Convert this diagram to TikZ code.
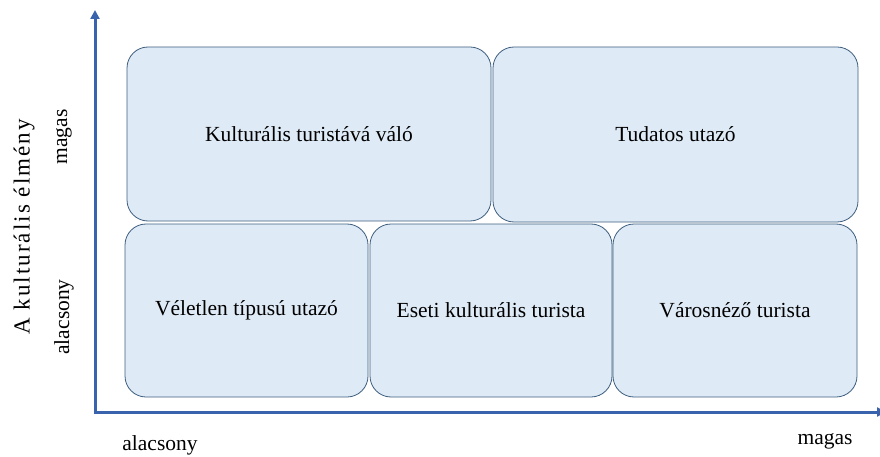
\documentclass[tikz,border=0pt]{standalone}
\usepackage{fontspec}
\setmainfont{Liberation Serif}
\usetikzlibrary{arrows.meta}
\definecolor{axisblue}{HTML}{3A63AE}
\definecolor{boxfill}{HTML}{DEEAF6}
\definecolor{boxline}{HTML}{3F5F7F}
\tikzset{
  cell/.style={draw=boxline, line width=0.8pt, fill=boxfill, rounded corners=21pt,
    inner sep=0pt, font=\fontsize{21.5}{25}\selectfont},
  axisline/.style={draw=axisblue, line width=3pt, -{Triangle[length=9pt,width=9pt]}},
  ticklabel/.style={font=\fontsize{21.5}{25}\selectfont, inner sep=0pt},
}
\begin{document}
\begin{tikzpicture}[x=1pt,y=-1pt]
\useasboundingbox (0,0) rectangle (880,457);
% axes
\coordinate (origin) at (95,412);
\coordinate (ytip) at (95,10);
\coordinate (xtip) at (886,412);
\draw[axisline] (origin) -- (ytip);
\draw[axisline] ([xshift=-1.5pt]origin) -- (xtip);
% categories
\node[cell, minimum width=364pt, minimum height=174pt] (kult) at (309,134) {Kulturális turistává váló};
\node[cell, minimum width=365pt, minimum height=175pt] (tudatos) at (675.5,134.5) {Tudatos utazó};
\node[cell, minimum width=243pt, minimum height=173pt] (veletlen) at (246.5,310.5) {Véletlen típusú utazó};
\node[cell, minimum width=242pt, minimum height=173pt] (eseti) at (491,310.5) {Eseti kulturális turista};
\node[cell, minimum width=244pt, minimum height=173pt] (varos) at (735,310.5) {Városnéző turista};
% axis labels
\node[rotate=90, font=\fontsize{23}{27}\selectfont\addfontfeature{LetterSpace=9}, inner sep=0pt] (ytitle) at (24,227) {A kulturális élmény};
\node[ticklabel, rotate=90] (yhigh) at (64,137) {magas};
\node[ticklabel, rotate=90] (ylow) at (64,317) {alacsony};
\node[ticklabel] (xlow) at (160,445) {alacsony};
\node[ticklabel] (xhigh) at (825,441) {magas};
\end{tikzpicture}
\end{document}
